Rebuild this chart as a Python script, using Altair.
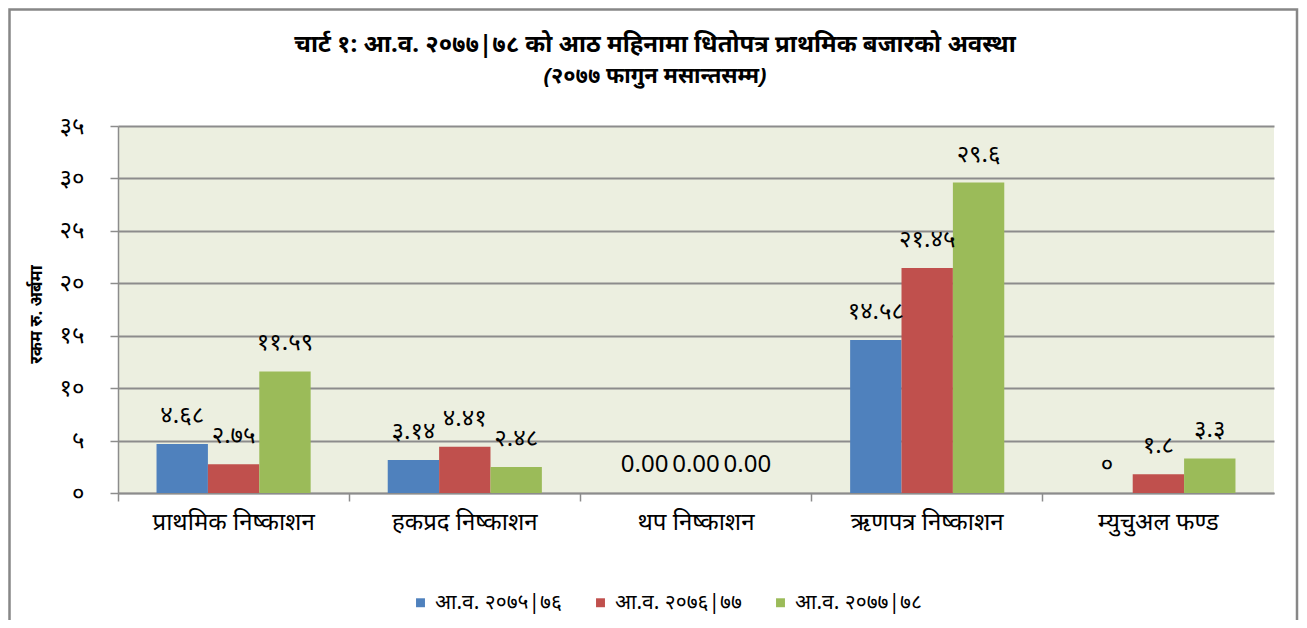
import altair as alt
import pandas as pd

CATEGORIES = ["प्राथमिक निष्काशन", "हकप्रद निष्काशन", "थप निष्काशन", "ऋणपत्र निष्काशन", "म्युचुअल फण्ड"]
SERIES = ["आ.व. २०७५|७६", "आ.व. २०७६|७७", "आ.व. २०७७|७८"]
V_7576 = [4.68, 3.14, 0.0, 14.58, 0.0]
V_7677 = [2.75, 4.41, 0.0, 21.45, 1.8]
V_7778 = [11.59, 2.48, 0.0, 29.6, 3.3]
L_7576 = ["४.६८", "३.१४", "0.00", "१४.५८", "०"]
L_7677 = ["२.७५", "४.४१", "0.00", "२१.४५", "१.८"]
L_7778 = ["११.५९", "२.४८", "0.00", "२९.६", "३.३"]
COLORS = ["#4F81BD", "#C0504D", "#9BBB59"]
Y_TICKS = [0, 5, 10, 15, 20, 25, 30, 35]
Y_TICK_LABELS = ["०", "५", "१०", "१५", "२०", "२५", "३०", "३५"]

TITLE = "चार्ट १: आ.व. २०७७|७८ को आठ महिनामा धितोपत्र प्राथमिक बजारको अवस्था"
SUBTITLE = "(२०७७ फागुन मसान्तसम्म)"
Y_TITLE = "रकम रु. अर्बमा"

FONT = "Noto Sans"

rows = []
for vals, labs, s in zip([V_7576, V_7677, V_7778], [L_7576, L_7677, L_7778], SERIES):
    for c, v, l in zip(CATEGORIES, vals, labs):
        rows.append({"cat": c, "series": s, "value": v, "label": l})
df = pd.DataFrame(rows)

label_expr = ""
for t, l in zip(Y_TICKS, Y_TICK_LABELS):
    label_expr += f"datum.value == {t} ? '{l}' : "
label_expr += "datum.label"

W, H = 1156, 367

x_enc = alt.X(
    "cat:N", sort=CATEGORIES,
    scale=alt.Scale(paddingInner=0, paddingOuter=0),
    axis=alt.Axis(title=None, grid=False, labelAngle=0, bandPosition=0,
                  tickSize=8, labelFontSize=24,
                  labelPadding=9, labelColor="#000000"),
)
xo_enc = alt.XOffset("series:N", sort=SERIES,
                     scale=alt.Scale(paddingInner=0, paddingOuter=0.75))
y_enc = alt.Y(
    "value:Q", scale=alt.Scale(domain=[0, 35], nice=False),
    axis=alt.Axis(values=Y_TICKS, labelExpr=label_expr, title=Y_TITLE,
                  titleFontSize=17, titleFontWeight="bold", titleX=-82, titleY=188,
                  titleAngle=-90, titleAlign="center", titleBaseline="middle",
                  tickSize=8, labelFontSize=24, labelFontWeight="normal",
                  labelPadding=26, labelColor="#000000"),
)

base = alt.Chart(df).encode(x=x_enc, xOffset=xo_enc)

bars = base.mark_bar().encode(
    y=y_enc,
    color=alt.Color("series:N", sort=SERIES,
                    scale=alt.Scale(domain=SERIES, range=COLORS),
                    legend=alt.Legend(title=None, orient="none", direction="horizontal",
                                      legendX=292, legendY=466,
                                      symbolType="square", symbolSize=80,
                                      labelFontSize=21, columnPadding=28,
                                      labelColor="#000000")),
)

texts = base.mark_text(dy=-28, fontSize=24, fontWeight="normal", font=FONT,
                       color="#000000").encode(
    y=alt.Y("value:Q"), text="label:N"
)

titles_df = pd.DataFrame({"t": [TITLE]})
subtitle_df = pd.DataFrame({"t": [SUBTITLE]})
title_mark = alt.Chart(titles_df).mark_text(
    fontSize=24, fontWeight="bold", font=FONT, color="#000000", align="center", baseline="middle"
).encode(x=alt.value(537), y=alt.value(-81), text="t:N")
subtitle_mark = alt.Chart(subtitle_df).mark_text(
    fontSize=22, fontWeight="bold", fontStyle="italic", font=FONT, color="#000000",
    align="center", baseline="middle"
).encode(x=alt.value(537), y=alt.value(-50), text="t:N")

border = alt.Chart(pd.DataFrame({"k": [0]})).mark_rect(
    fillOpacity=0, stroke="#878787", strokeWidth=2.5
).encode(x=alt.value(-108.5), x2=alt.value(1179), y=alt.value(-116.5), y2=alt.value(700))

chart = alt.layer(bars, texts, title_mark, subtitle_mark, border).properties(
    width=W, height=H,
    autosize=alt.AutoSizeParams(type="none"),
    padding={"left": 110, "top": 118, "right": 25, "bottom": 127},
).configure(font=FONT).configure_view(
    fill="#ECEFE0", stroke=None
).configure_axis(
    gridColor="#8C8C8C", gridWidth=2, domainColor="#8C8C8C", domainWidth=1.5,
    tickColor="#8C8C8C", tickWidth=1.5, labelFont=FONT, titleFont=FONT,
    titleColor="#000000"
).configure_legend(labelFont=FONT)

chart.save("out.html", embed_options={"renderer": "svg", "actions": False})
